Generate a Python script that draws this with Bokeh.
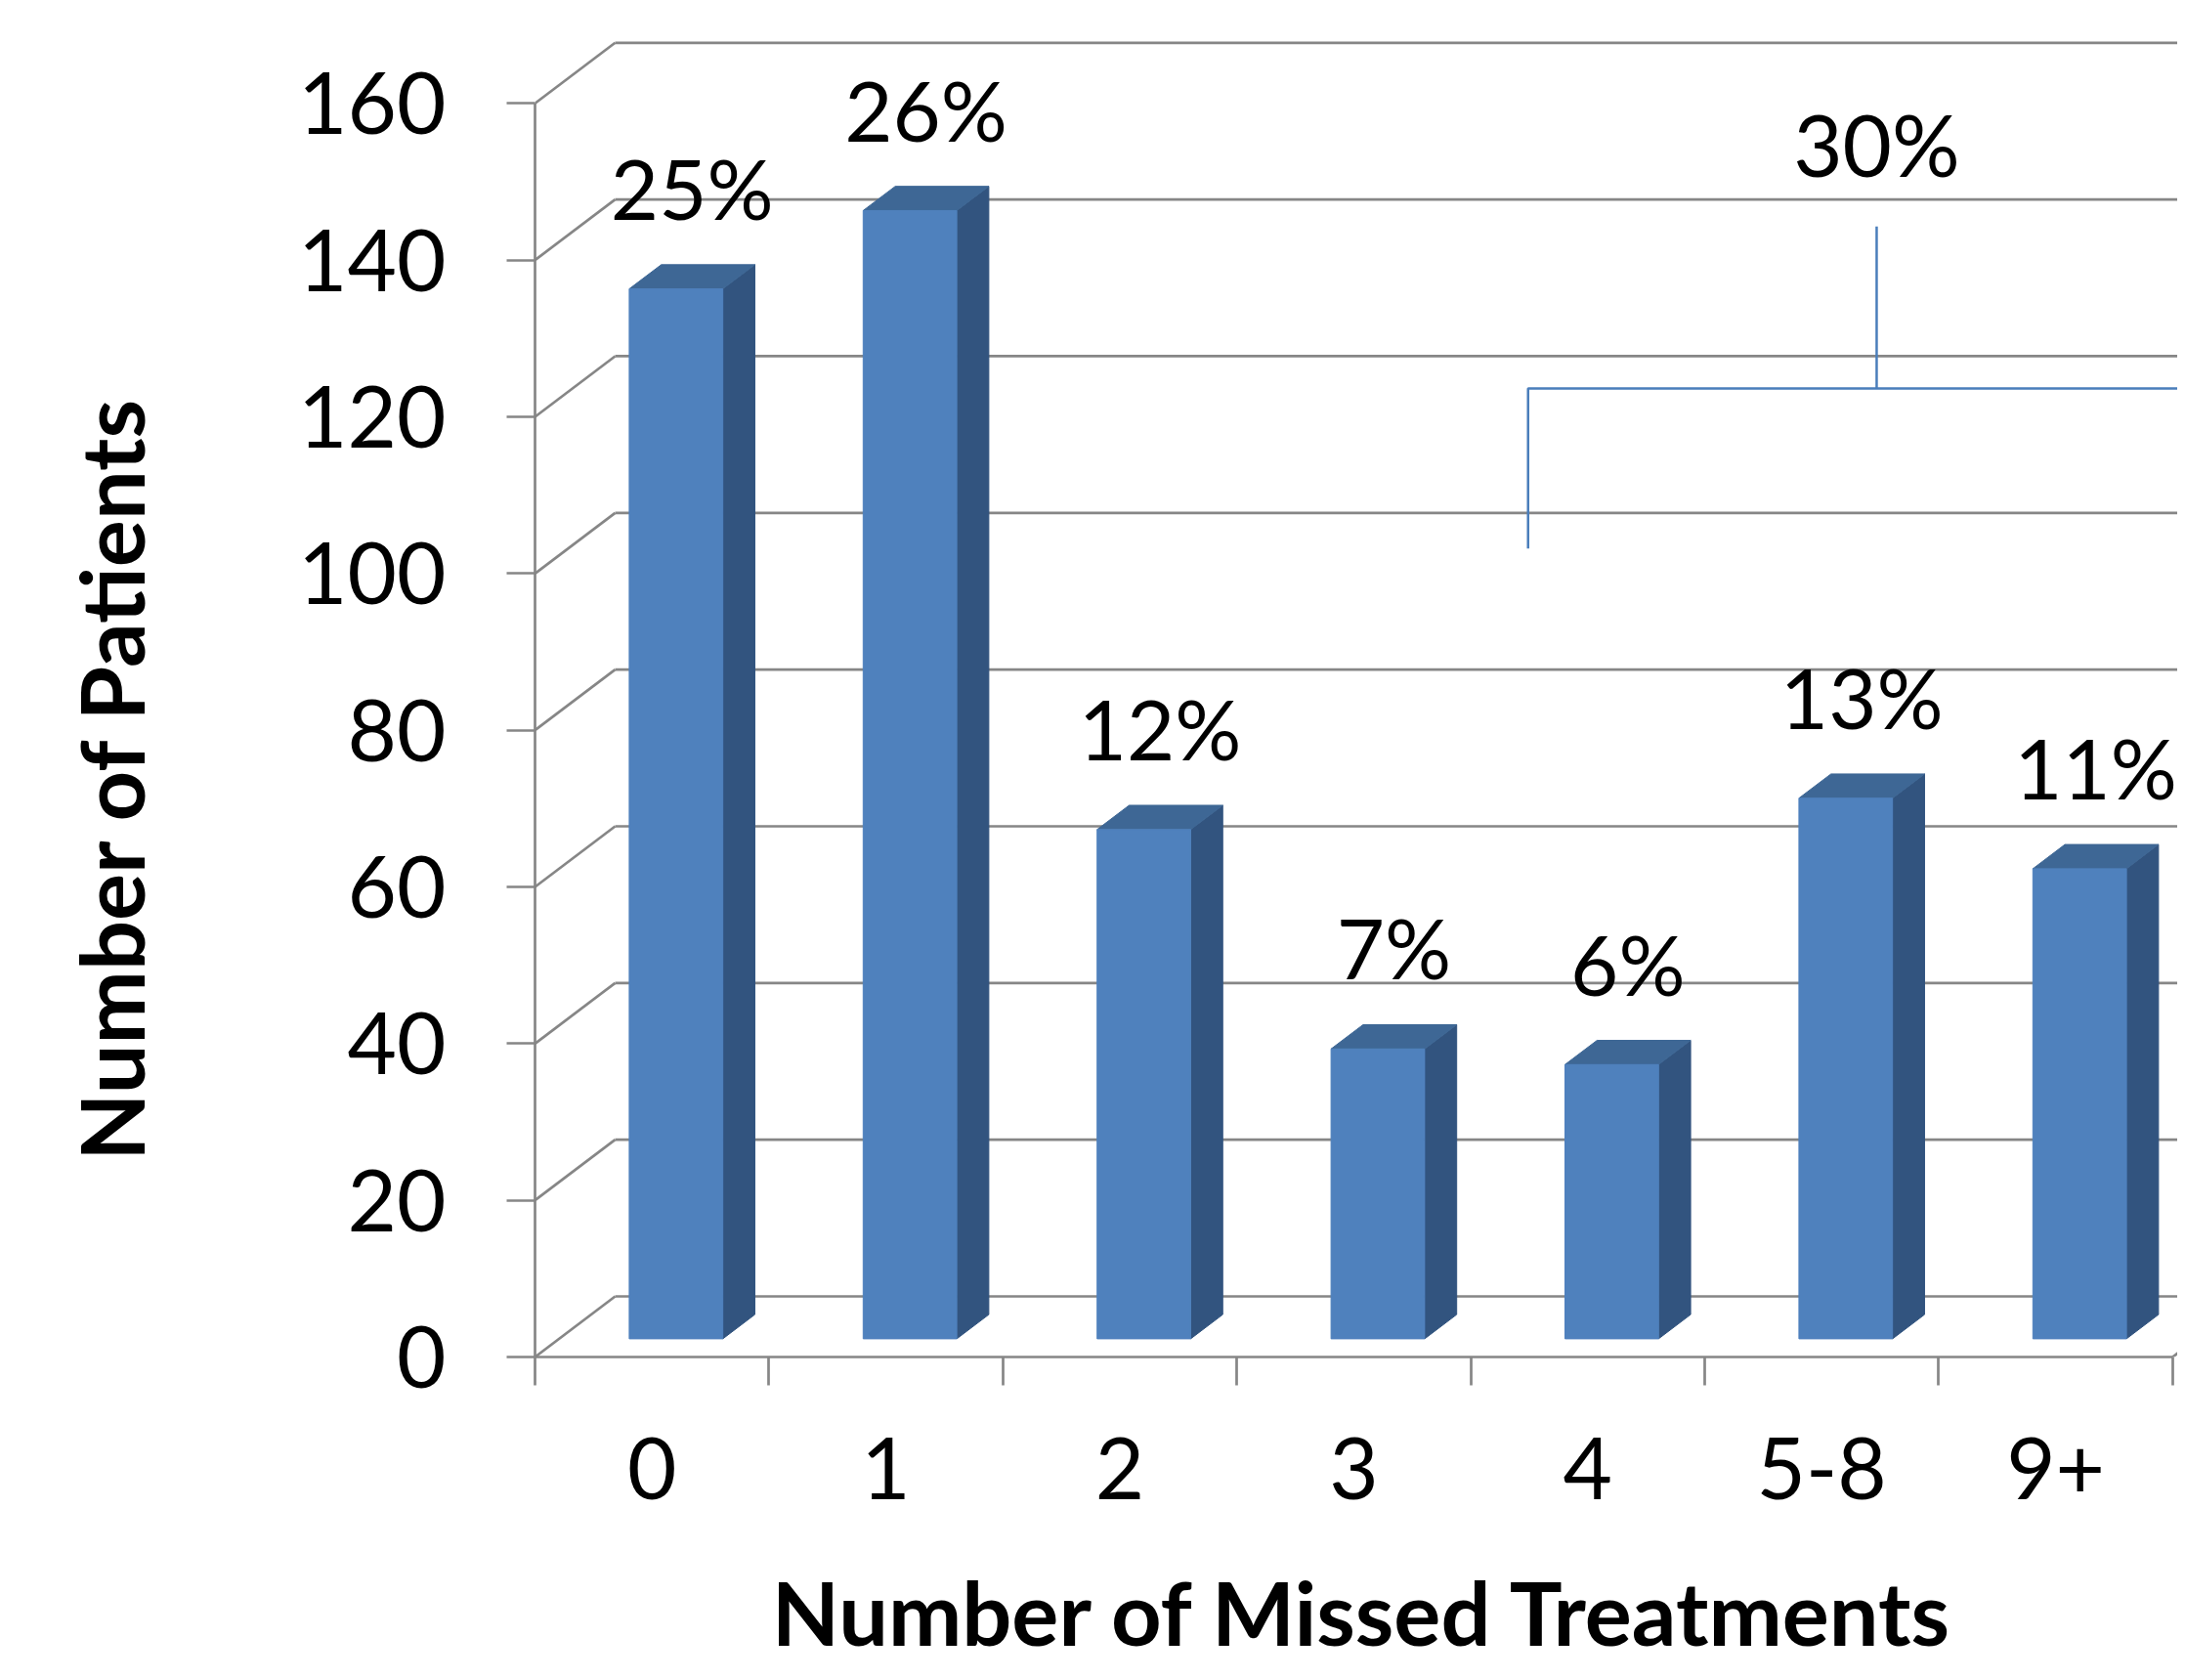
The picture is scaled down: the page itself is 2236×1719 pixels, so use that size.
import math
from bokeh.plotting import figure
from bokeh.layouts import row, column
from bokeh.models import Range1d, FixedTicker, ColumnDataSource
from bokeh.core.properties import value
from bokeh.embed import file_html
from bokeh.resources import INLINE

# ---------------- data ----------------
categories = ["0", "1", "2", "3", "4", "5-8", "9+"]
patients = [134, 144, 65, 37, 35, 69, 60]
percent_labels = ["25%", "26%", "12%", "7%", "6%", "13%", "11%"]
y_ticks = [0, 20, 40, 60, 80, 100, 120, 140, 160]
group_first, group_last = 4, 6          # categories grouped by the bracket (6% + 13% + 11%)
group_label = "30%"
x_title = "Number of Missed Treatments"
y_title = "Number of Patients"

# ---------------- layout / style constants ----------------
W, H = 2228, 1703
LEFT_W = 260              # strip holding the y-axis title
MAIN_H = 1578             # height of the chart row; the x-axis title sits below
FRAME_LEFT = 547          # page x of the y axis
FRAME_BOTTOM = 1388       # page y of the x axis
PX_PER_CAT = 239.4
PX_PER_UNIT = 8.017
x_end = (W - FRAME_LEFT) / PX_PER_CAT
y_end = FRAME_BOTTOM / PX_PER_UNIT

DX = 82 / PX_PER_CAT      # floor depth in category units
DY = 62 / PX_PER_UNIT     # floor depth in value units
BAR_W = 0.4
BAR_FRONT = 0.3           # depth fraction of bar front face
BAR_DEPTH = 0.4

GRID = "#868686"
FRONT = "#4F81BD"
TOP = "#3E6795"
SIDE = "#32547F"
BRACKET = "#4A7EBB"
FONT = "Lato"

p = figure(width=W - LEFT_W, height=MAIN_H, output_backend="svg", toolbar_location=None,
           x_range=Range1d(0, x_end), y_range=Range1d(0, y_end),
           min_border_left=FRAME_LEFT - LEFT_W, min_border_bottom=MAIN_H - FRAME_BOTTOM,
           min_border_top=0, min_border_right=0)
p.outline_line_color = None
p.grid.visible = False
p.background_fill_color = "white"
p.border_fill_color = "white"

# ---- walls: side-wall diagonals and back-wall gridlines ----
back_y = [t + DY for t in y_ticks]
p.segment(x0=[0] * len(y_ticks), y0=y_ticks, x1=[DX] * len(y_ticks), y1=back_y,
          line_color=GRID, line_width=2.7)
p.segment(x0=[DX] * len(y_ticks), y0=back_y, x1=[x_end + 1] * len(y_ticks), y1=back_y,
          line_color=GRID, line_width=2.7)
n = len(categories)
p.segment(x0=[n], y0=[0], x1=[n + DX], y1=[DY], line_color=GRID, line_width=2.7)

# ---- 3D bars ----
fl, fr, fb, ft = [], [], [], []
top_xs, top_ys, side_xs, side_ys = [], [], [], []
ox, oy = BAR_FRONT * DX, BAR_FRONT * DY
bx, by = BAR_DEPTH * DX, BAR_DEPTH * DY
for i, v in enumerate(patients):
    L = i + 0.5 - BAR_W / 2 + ox
    R = i + 0.5 + BAR_W / 2 + ox
    B = oy
    T = v + oy
    fl.append(L); fr.append(R); fb.append(B); ft.append(T)
    top_xs.append([L, R, R + bx, L + bx])
    top_ys.append([T, T, T + by, T + by])
    side_xs.append([R, R + bx, R + bx, R])
    side_ys.append([B, B + by, T + by, T])

p.patches(xs=side_xs, ys=side_ys, fill_color=SIDE, line_color=SIDE, line_width=1)
p.patches(xs=top_xs, ys=top_ys, fill_color=TOP, line_color=TOP, line_width=1)
p.quad(left=fl, right=fr, bottom=fb, top=ft, fill_color=FRONT, line_color=FRONT, line_width=1)

# ---- data labels ----
lab_src = ColumnDataSource(dict(
    x=[i + 0.5 + (BAR_FRONT + BAR_DEPTH / 2) * DX for i in range(n)],
    y=[v + (BAR_FRONT + BAR_DEPTH) * DY for v in patients],
    t=percent_labels))
p.text(x="x", y="y", text="t", source=lab_src, text_align="center",
       text_baseline="middle", y_offset=-79,
       text_font=value(FONT), text_font_size=value("85px"), text_color="black")

# ---- bracket for grouped categories ----
bl = group_first + 0.245
br = group_last + 1 + 0.225
bm = (bl + br) / 2
bar_y, leg_y, stem_y, lab_y = 123.6, 103.2, 144.3, 150.6
p.line(x=[bl, bl, br, br], y=[leg_y, bar_y, bar_y, leg_y], line_color=BRACKET, line_width=2.5)
p.line(x=[bm, bm], y=[bar_y, stem_y], line_color=BRACKET, line_width=2.5)
p.text(x=[bm], y=[lab_y], text=[group_label], text_align="center", text_baseline="middle",
       y_offset=-34, text_font=value(FONT), text_font_size=value("87px"), text_color="black")

# ---- axes ----
yax = p.yaxis[0]
yax.ticker = FixedTicker(ticks=y_ticks, minor_ticks=[])
yax.bounds = (0, 160)
yax.axis_line_color = GRID
yax.axis_line_width = 2.7
yax.major_tick_line_color = GRID
yax.major_tick_line_width = 2.7
yax.major_tick_out = 29
yax.major_tick_in = 0
yax.minor_tick_line_color = None
yax.major_label_standoff = 62
yax.major_label_text_font = FONT
yax.major_label_text_font_size = "87px"
yax.major_label_text_color = "black"

xax = p.xaxis[0]
centers = [i + 0.5 for i in range(n)]
xax.ticker = FixedTicker(ticks=centers, minor_ticks=list(range(n + 1)))
xax.major_label_overrides = {c: lab for c, lab in zip(centers, categories)}
xax.bounds = (0, n)
xax.axis_line_color = GRID
xax.axis_line_width = 2.7
xax.major_tick_line_color = None
xax.major_tick_out = 29
xax.major_tick_in = 0
xax.minor_tick_line_color = GRID
xax.minor_tick_line_width = 2.7
xax.minor_tick_out = 29
xax.minor_tick_in = 0
xax.major_label_standoff = 53
xax.major_label_text_font = FONT
xax.major_label_text_font_size = "87px"
xax.major_label_text_color = "black"


# ---- axis-title strips (left: y title, bottom: x title) ----
def text_strip(width, height):
    f = figure(width=width, height=height, output_backend="svg", toolbar_location=None,
               x_range=Range1d(0, width), y_range=Range1d(0, height),
               x_axis_type=None, y_axis_type=None,
               min_border_left=0, min_border_right=0, min_border_top=0, min_border_bottom=0)
    f.outline_line_color = None
    f.background_fill_color = "white"
    f.border_fill_color = "white"
    return f


left = text_strip(LEFT_W, MAIN_H)
left.text(x=[112], y=[MAIN_H - 905], text=[y_title], angle=math.pi / 2,
          text_align="center", text_baseline="middle",
          text_font=value(FONT), text_font_size=value("90px"), text_font_style="bold",
          text_color="black")

BOT_H = H - MAIN_H
bottom = text_strip(W, BOT_H)
bottom.text(x=[1395], y=[BOT_H - (1648 - MAIN_H)], text=[x_title],
            text_align="center", text_baseline="middle",
            text_font=value(FONT), text_font_size=value("90px"), text_font_style="bold",
            text_color="black")

layout = column(row(left, p, spacing=0), bottom, spacing=0)
open("out.html", "w").write(file_html(layout, INLINE))
